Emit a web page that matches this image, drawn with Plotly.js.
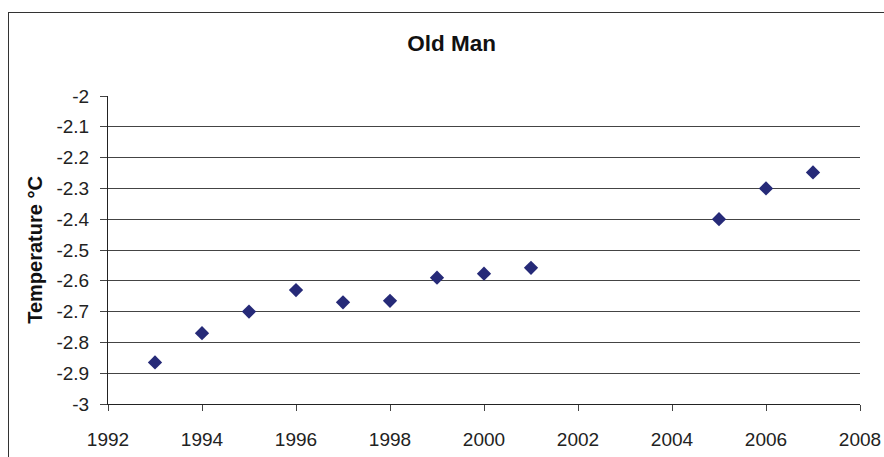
<!DOCTYPE html>
<html>
<head>
<meta charset="utf-8">
<script src="https://cdn.plot.ly/plotly-3.0.1.min.js"></script>
<style>
html,body{margin:0;padding:0;background:#fff;}
#wrap{position:relative;width:884px;height:457px;}
#chart{position:absolute;left:0;top:0;width:884px;height:457px;}
#frame{position:absolute;left:8px;top:12px;width:900px;height:460px;border-left:1px solid #333;border-top:1px solid #333;pointer-events:none;}
</style>
</head>
<body>
<div id="wrap"><div id="chart"></div><div id="frame"></div></div>
<script>
var years = [1993, 1994, 1995, 1996, 1997, 1998, 1999, 2000, 2001, 2005, 2006, 2007];
var temps = [-2.865, -2.77, -2.70, -2.63, -2.67, -2.665, -2.59, -2.577, -2.558, -2.40, -2.30, -2.248];
var yTickVals = [-3, -2.9, -2.8, -2.7, -2.6, -2.5, -2.4, -2.3, -2.2, -2.1, -2];
var yTickText = ["-3", "-2.9", "-2.8", "-2.7", "-2.6", "-2.5", "-2.4", "-2.3", "-2.2", "-2.1", "-2"];
var xTickVals = [1992, 1994, 1996, 1998, 2000, 2002, 2004, 2006, 2008];
var xTickText = ["1992", "1994", "1996", "1998", "2000", "2002", "2004", "2006", "2008"];
var chartTitle = "Old Man";
var yTitle = "Temperature °C";

var font = "Arial, 'Liberation Sans', sans-serif";

Plotly.newPlot('chart', [{
  type: 'scatter',
  mode: 'markers',
  x: years,
  y: temps,
  marker: {symbol: 'diamond', size: 11, color: '#262a78'},
  hoverinfo: 'x+y'
}], {
  width: 884, height: 457,
  margin: {l: 108, r: 24, t: 96, b: 53, pad: 0},
  paper_bgcolor: '#fff', plot_bgcolor: '#fff',
  showlegend: false,
  font: {family: font, color: '#000', size: 19},
  title: {text: '<b>' + chartTitle + '</b>', font: {family: font, size: 22.5, color: '#111'},
          x: 0.511, xanchor: 'center', y: 1 - 43/457, yanchor: 'middle'},
  xaxis: {
    range: [1992, 2008], tickmode: 'array', tickvals: xTickVals, ticktext: xTickText,
    showgrid: false, zeroline: false, showline: true, linecolor: '#222', linewidth: 1,
    ticks: 'outside', ticklen: 6, tickcolor: '#444', tickwidth: 1,
    tickfont: {family: font, size: 19, color: '#222'}, ticklabelstandoff: 12
  },
  yaxis: {
    range: [-3, -2], tickmode: 'array', tickvals: yTickVals, ticktext: yTickText,
    showgrid: true, gridcolor: '#444', gridwidth: 1, zeroline: false,
    showline: true, linecolor: '#222', linewidth: 1,
    ticks: 'outside', ticklen: 7, tickcolor: '#444', tickwidth: 1,
    tickfont: {family: font, size: 19, color: '#222'}, ticklabelstandoff: 7,
    title: {text: '<b>' + yTitle + '</b>', font: {family: font, size: 20, color: '#111'}, standoff: 8}
  }
}, {staticPlot: true});
</script>
</body>
</html>
